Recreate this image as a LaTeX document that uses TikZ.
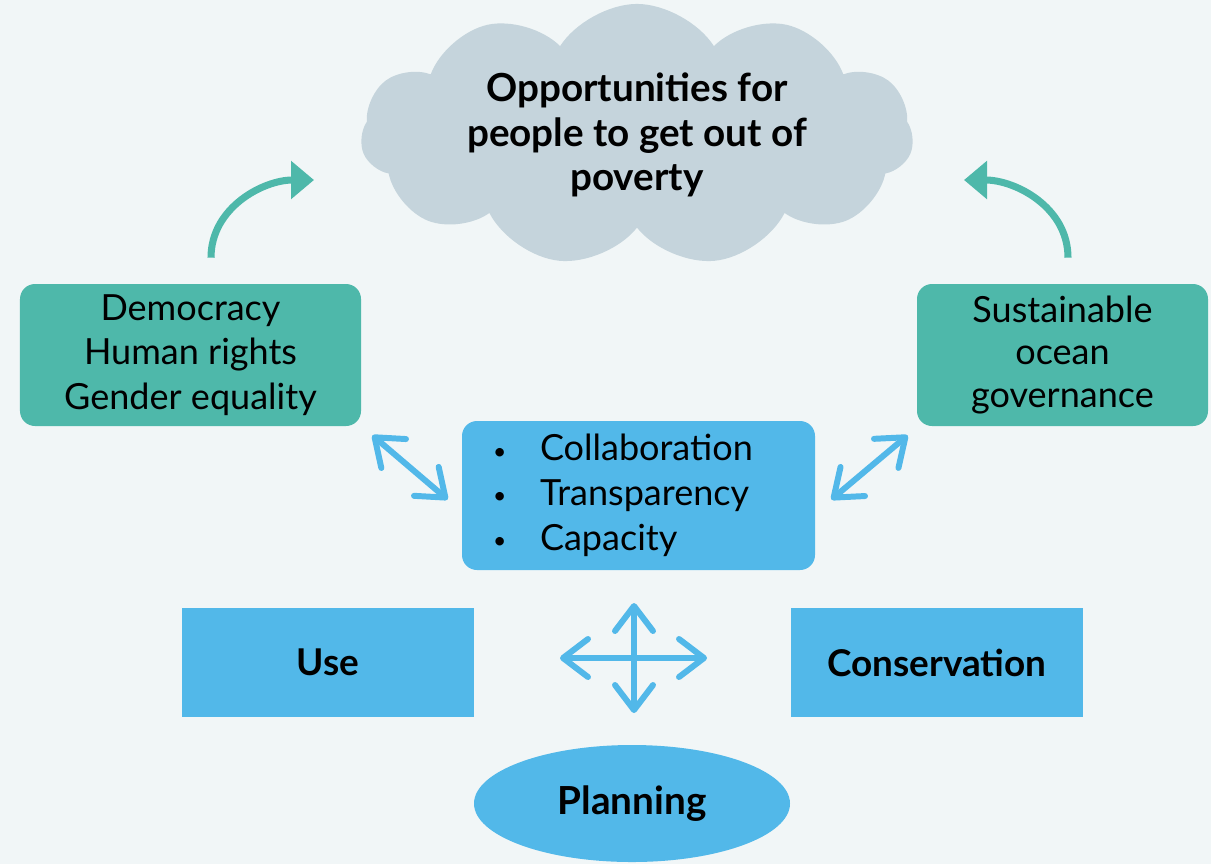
\documentclass[tikz,border=0pt]{standalone}
\usepackage{fontspec}
\setmainfont{Lato}
\usetikzlibrary{arrows.meta, positioning, shapes.symbols, shapes.geometric, calc}

\definecolor{bgpale}{RGB}{241,246,247}
\definecolor{cloudgrey}{RGB}{197,212,220}
\definecolor{teal}{RGB}{78,184,170}
\definecolor{skyblue}{RGB}{82,184,233}

\newcommand{\bulletmark}{\makebox[0.94cm][l]{\raisebox{0.1ex}{\fontsize{13}{13}\selectfont\textbullet}}}

\begin{document}
\begin{tikzpicture}[
		font=\fontsize{20.5}{25.5}\selectfont,
		greenbox/.style={
			rectangle,
			rounded corners=0.3cm,
			fill=teal,
			align=center,
			minimum height=2.84cm
		},
		bluebox/.style={
			rectangle,
			fill=skyblue,
			align=center,
			minimum width=5.84cm,
			minimum height=2.18cm,
			font=\fontsize{21}{25.5}\selectfont\bfseries
		},
		turn/.style={line width=4pt, teal, -{Triangle[length=0.46cm, width=0.74cm]}},
		link/.style={line width=3.4pt, skyblue, line cap=round,
			{Straight Barb[round, length=0.5cm, width=0.76cm]}-{Straight Barb[round, length=0.5cm, width=0.76cm]}}
		]
		
		% ---- Background ----
		\fill[bgpale] (0,0) rectangle (24.22,-17.28);
		\useasboundingbox (0,0) rectangle (24.22,-17.28);
		
		% ---- Goal ----
		\node[cloud, cloud puffs=11, cloud puff arc=115, cloud ignores aspect, fill=cloudgrey, align=center,
		minimum width=11.05cm, minimum height=4.85cm, font=\fontsize{22}{25.5}\selectfont\bfseries] (goal) at (12.74,-2.7)
		{Opportunities for\\people to get out of\\poverty};
		
		% ---- Side boxes ----
		\node[greenbox, minimum width=6.82cm] (rights) at (3.81,-7.1)
		{Democracy\\Human rights\\Gender equality};
		
		\node[greenbox, minimum width=5.82cm, font=\fontsize{20.5}{24}\selectfont] (ocean) at (21.25,-7.1)
		{Sustainable\\ocean\\governance};
		
		% ---- Centre ----
		\node[rectangle, rounded corners=0.3cm, fill=skyblue, align=left,
		inner xsep=0.62cm, text width=5.82cm, minimum height=2.98cm] (collab) at (12.77,-9.91)
		{\bulletmark Collaboration\\
			\bulletmark Transparency\\
			\bulletmark Capacity};
		
		% ---- Bottom ----
		\node[bluebox] (use) at (6.56,-13.25) {Use};
		\node[bluebox] (conserve) at (18.74,-13.25) {Conservation};
		
		\node[ellipse, fill=skyblue, minimum width=6.32cm, minimum height=2.34cm,
		font=\fontsize{22}{25.5}\selectfont\bfseries] (plan) at (12.64,-16.07) {Planning};
		
		% ---- Curved arrows ----
		\coordinate (lstart) at ([xshift=0.41cm, yshift=0.52cm]rights.north);
		\coordinate (lend) at (6.28,-3.6);
		\coordinate (rstart) at ([xshift=0.11cm, yshift=0.52cm]ocean.north);
		\coordinate (rend) at (19.28,-3.6);
		
		\draw[turn] (lstart) to[out=90, in=180] (lend);
		\draw[turn] (rstart) to[out=90, in=0] (rend);
		
		% ---- Links ----
		\draw[link] ([shift={(0.22,-0.18)}]rights.south east) -- ([xshift=-0.28cm, yshift=-0.08cm]collab.west);
		\draw[link] ([shift={(-0.18,-0.18)}]ocean.south west) -- ([xshift=0.32cm, yshift=-0.08cm]collab.east);
		
		\coordinate (hub) at (12.68,-13.16);
		\draw[link] ([xshift=-1.48cm]hub) -- ([xshift=1.46cm]hub);
		\draw[link] ([yshift=1.1cm]hub) -- ([yshift=-1.1cm]hub);
		
	\end{tikzpicture}
\end{document}
